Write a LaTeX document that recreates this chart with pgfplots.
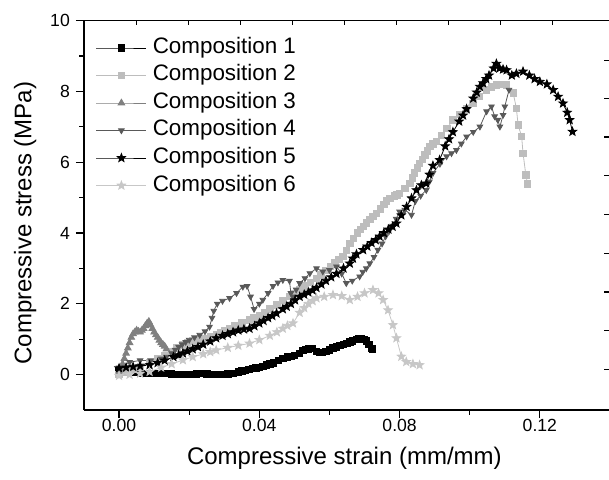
\documentclass[border=0pt]{standalone}
\usepackage{fontspec}
\setmainfont{Liberation Sans}
\usepackage{pgfplots}
\pgfplotsset{compat=1.18}
\definecolor{c2}{gray}{0.74}
\definecolor{c3}{gray}{0.5}
\definecolor{c4}{gray}{0.35}
\definecolor{c6}{gray}{0.78}
\pgfdeclareplotmark{fstar}{%
\pgfpathmoveto{\pgfpointpolar{90}{\pgfplotmarksize}}%
\pgfpathlineto{\pgfpointpolar{126}{0.42\pgfplotmarksize}}%
\pgfpathlineto{\pgfpointpolar{162}{\pgfplotmarksize}}%
\pgfpathlineto{\pgfpointpolar{198}{0.42\pgfplotmarksize}}%
\pgfpathlineto{\pgfpointpolar{234}{\pgfplotmarksize}}%
\pgfpathlineto{\pgfpointpolar{270}{0.42\pgfplotmarksize}}%
\pgfpathlineto{\pgfpointpolar{306}{\pgfplotmarksize}}%
\pgfpathlineto{\pgfpointpolar{342}{0.42\pgfplotmarksize}}%
\pgfpathlineto{\pgfpointpolar{18}{\pgfplotmarksize}}%
\pgfpathlineto{\pgfpointpolar{54}{0.42\pgfplotmarksize}}%
\pgfpathclose
\pgfusepathqfillstroke}
\begin{document}
\begin{tikzpicture}
\begin{axis}[
 width=526pt, height=389.5pt, scale only axis,
 xmin=-0.01, xmax=0.14, ymin=-1, ymax=10,
 axis x line=bottom, axis y line=left, axis line style={-, line width=1.2pt},
 xtick={0,0.04,0.08,0.12}, xticklabels={0.00,0.04,0.08,0.12},
 minor xtick={0.02,0.06,0.10},
 ytick={0,2,4,6,8,10}, minor ytick={1,3,5,7,9},
 tick align=outside, major tick length=8pt, minor tick length=4.5pt,
 every tick/.style={black, line width=1.2pt},
 tick label style={font=\fontsize{17.6}{20}\selectfont},
 /pgf/number format/assume math mode=true,
 xticklabel style={anchor=north, inner sep=0pt, yshift=-0.7pt},
 yticklabel style={anchor=east, inner sep=0pt, xshift=-6pt},
 xlabel={Compressive strain (mm/mm)}, ylabel={Compressive stress (MPa)},
 label style={font=\fontsize{24}{28}\selectfont},
 xlabel style={at={(axis description cs:0.495,0)}, anchor=base, yshift=-54pt},
 ylabel style={at={(axis description cs:-0.112,0.48)}, anchor=center},
 legend style={draw=none, fill=none, at={(axis description cs:0,1)}, anchor=north west,
   xshift=12pt, yshift=-17pt, inner sep=0pt, outer sep=0pt, row sep=6.5pt, column sep=6pt,
   font=\fontsize{22.4}{24}\selectfont,
   nodes={inner sep=0pt, text height=16pt, text depth=5pt, anchor=west}},
 legend cell align=left,
 legend image code/.code={\draw[mark repeat=2,mark phase=2] plot coordinates {(0pt,0pt)(25pt,0pt)(50pt,0pt)};},
]
\addplot[black, line width=0.8pt, mark=square*, mark size=3.2pt] coordinates {
(0.000,0.10)(0.002,0.08)(0.004,0.06)(0.006,0.05)(0.008,0.04)(0.010,0.03)(0.012,0.04)(0.0135,0.04)
(0.015,0.02)(0.016,0.01)(0.017,0.0)(0.018,0.0)(0.019,0.0)(0.020,0.0)(0.021,0.0)(0.022,0.02)(0.023,0.03)(0.024,0.03)(0.025,0.02)(0.026,0.01)(0.027,0.0)(0.028,0.0)(0.029,0.0)(0.030,0.01)
(0.031,0.02)(0.0325,0.04)(0.034,0.08)(0.035,0.1)(0.036,0.12)(0.037,0.14)(0.038,0.17)(0.039,0.19)(0.040,0.2)(0.041,0.23)(0.042,0.27)(0.043,0.3)(0.044,0.33)
(0.0455,0.4)(0.0467,0.45)(0.048,0.5)(0.049,0.52)(0.050,0.55)(0.0515,0.6)(0.0524,0.69)(0.0532,0.71)(0.054,0.73)(0.055,0.74)
(0.0563,0.65)(0.0572,0.62)(0.058,0.62)(0.059,0.66)(0.060,0.7)(0.061,0.75)(0.062,0.78)(0.063,0.82)(0.064,0.85)(0.065,0.88)(0.0658,0.92)(0.0665,0.95)(0.0677,1.0)
(0.0684,1.02)(0.069,1.02)(0.0698,1.0)(0.0705,0.95)(0.0712,0.85)(0.072,0.74)(0.0722,0.72)};
\addlegendentry{Composition 1}
\addplot[c2, line width=0.8pt, mark=square*, mark size=3.2pt] coordinates {
(0,0.0)(0.002,0.08)(0.004,0.15)(0.006,0.22)(0.0087,0.35)(0.011,0.45)(0.013,0.55)(0.015,0.65)(0.0165,0.75)
(0.0182,0.84)(0.0195,0.9)(0.021,0.95)(0.0225,1.0)(0.024,1.03)(0.026,1.08)(0.0277,1.12)(0.029,1.2)(0.030,1.25)(0.0315,1.31)(0.033,1.38)(0.035,1.46)(0.0372,1.54)(0.0385,1.6)(0.040,1.68)
(0.0415,1.76)(0.043,1.85)(0.045,1.97)(0.0467,2.1)(0.0485,2.2)(0.050,2.3)(0.0515,2.4)(0.053,2.5)(0.0545,2.6)(0.0563,2.72)(0.0575,2.82)(0.059,2.95)(0.0603,3.05)(0.0615,3.15)(0.0627,3.25)(0.0638,3.33)
(0.0648,3.5)(0.0658,3.71)(0.0668,3.85)(0.068,4.0)(0.0688,4.1)(0.0696,4.18)(0.0705,4.28)(0.0715,4.38)(0.0724,4.47)(0.0734,4.56)(0.0745,4.68)(0.0755,4.8)(0.0763,4.9)(0.0772,4.98)(0.0785,5.05)
(0.0792,5.08)(0.08,5.12)(0.0815,5.25)(0.0829,5.4)(0.0836,5.55)(0.0843,5.7)(0.085,5.84)(0.0857,5.97)(0.0865,6.08)(0.0872,6.2)(0.0879,6.32)(0.0886,6.44)(0.0895,6.52)(0.0905,6.58)
(0.092,6.75)(0.0935,6.95)(0.0952,7.19)(0.097,7.35)(0.099,7.5)(0.1009,7.66)(0.1028,7.85)(0.1048,8.04)
(0.1062,8.12)(0.1076,8.18)(0.109,8.2)(0.1105,8.18)(0.1124,7.95)(0.1133,7.52)(0.1138,7.05)(0.1148,6.72)
(0.1152,6.25)(0.116,5.64)(0.1165,5.38)};
\addlegendentry{Composition 2}
\addplot[c3, line width=0.8pt, mark=triangle*, mark size=3.8pt] coordinates {
(0,0.05)(0.0005,0.15)(0.001,0.3)(0.0015,0.45)(0.002,0.6)(0.0025,0.75)(0.003,0.9)(0.0035,1.05)(0.004,1.15)(0.0045,1.2)(0.005,1.25)(0.0055,1.22)(0.006,1.2)(0.0065,1.25)(0.007,1.3)(0.0075,1.38)
(0.008,1.45)(0.0085,1.5)(0.009,1.4)(0.0095,1.3)(0.010,1.2)(0.0105,1.12)(0.011,1.05)(0.0115,0.97)(0.012,0.9)(0.0125,0.85)(0.013,0.8)(0.0135,0.72)};
\addlegendentry{Composition 3}
\addplot[c4, line width=0.8pt, mark=triangle*, mark size=3.2pt, mark options={rotate=180}] coordinates {
(0,0.2)(0.003,0.35)(0.006,0.4)(0.009,0.4)(0.012,0.45)(0.0135,0.5)(0.015,0.6)(0.016,0.7)(0.017,0.78)(0.018,0.85)(0.019,0.92)
(0.020,0.98)(0.0215,1.05)(0.023,1.12)(0.0245,1.22)(0.0258,1.35)(0.0265,1.6)(0.027,1.8)(0.028,2.0)(0.0295,2.08)(0.0315,2.16)(0.0335,2.3)(0.0353,2.48)(0.0365,2.5)
(0.0375,2.2)(0.0385,1.85)(0.040,2.0)(0.041,2.11)(0.0425,2.3)(0.0439,2.5)(0.0453,2.6)(0.0467,2.67)(0.0486,2.65)(0.049,2.3)(0.0496,2.2)
(0.0505,2.4)(0.0515,2.58)(0.053,2.72)(0.0544,2.86)(0.0563,3.0)(0.0581,2.91)(0.06,2.95)(0.062,3.05)(0.0635,2.85)(0.0648,2.58)
(0.0665,2.65)(0.0686,2.77)(0.0695,2.9)(0.0705,3.0)(0.0715,3.14)(0.0727,3.32)(0.0738,3.52)(0.075,3.7)(0.076,3.9)(0.077,4.05)(0.078,4.2)(0.079,4.4)(0.080,4.6)
(0.0815,4.65)(0.0834,4.51)(0.0845,4.9)(0.086,5.05)(0.0876,5.21)(0.0885,5.45)(0.0895,5.69)(0.0915,5.95)(0.0934,6.16)(0.0948,6.25)(0.0962,6.34)(0.0976,6.52)(0.0991,6.72)
(0.101,6.85)(0.1029,7.0)(0.1048,7.43)(0.1062,7.57)(0.1071,7.29)(0.108,7.19)(0.1086,7.0)(0.1095,7.33)(0.11,7.57)
(0.1112,8.04)};
\addlegendentry{Composition 4}
\addplot[black, line width=0.8pt, mark=fstar, mark size=4.4pt] coordinates {
(0,0.18)(0.002,0.2)(0.004,0.22)(0.006,0.24)(0.0087,0.27)(0.011,0.33)(0.013,0.4)(0.0155,0.5)(0.017,0.55)
(0.0182,0.6)(0.0195,0.66)(0.021,0.72)(0.0225,0.78)(0.024,0.85)(0.026,0.94)(0.0277,1.03)(0.0295,1.1)(0.031,1.15)(0.0325,1.2)(0.034,1.25)(0.0356,1.28)(0.0372,1.3)(0.0386,1.37)(0.040,1.45)
(0.0412,1.52)(0.0425,1.6)(0.0437,1.66)(0.0449,1.73)(0.0467,1.85)(0.0478,1.92)(0.049,2.0)(0.0502,2.1)(0.0515,2.2)(0.0528,2.26)(0.054,2.32)(0.0552,2.38)(0.0563,2.45)(0.0577,2.55)(0.059,2.65)
(0.0605,2.75)(0.062,2.85)(0.064,3.0)(0.0658,3.14)(0.0667,3.28)(0.0677,3.4)(0.0696,3.52)(0.0708,3.62)(0.072,3.72)(0.0732,3.8)(0.0743,3.9)(0.0755,4.0)(0.0768,4.1)(0.078,4.18)(0.0791,4.27)
(0.0805,4.5)(0.082,4.74)(0.0834,4.98)(0.0848,5.21)(0.0862,5.35)(0.0876,5.4)(0.0885,5.65)(0.0895,5.9)(0.0914,6.06)(0.093,6.45)(0.0941,6.65)(0.0952,6.85)
(0.097,7.15)(0.0981,7.32)(0.0991,7.5)(0.101,7.8)(0.102,7.97)(0.1029,8.13)(0.1038,8.23)(0.1047,8.35)(0.1055,8.45)(0.1068,8.65)(0.1076,8.78)
(0.1085,8.65)(0.1095,8.62)(0.1105,8.6)(0.112,8.45)(0.1133,8.5)(0.1152,8.56)(0.117,8.45)(0.1185,8.35)
(0.12,8.27)(0.122,8.2)(0.1238,8.04)(0.1252,7.85)(0.1266,7.66)(0.1278,7.4)(0.1285,7.19)(0.1293,6.86)};
\addlegendentry{Composition 5}
\addplot[c6, line width=0.8pt, mark=fstar, mark size=4.4pt] coordinates {
(0,-0.03)(0.003,0.0)(0.006,0.03)(0.0087,0.08)(0.012,0.2)(0.015,0.3)(0.0182,0.41)(0.021,0.5)
(0.024,0.58)(0.026,0.64)(0.0277,0.69)(0.031,0.76)(0.034,0.82)(0.0372,0.88)(0.040,0.98)(0.043,1.1)(0.045,1.2)(0.0467,1.3)
(0.048,1.38)(0.0496,1.45)(0.0515,1.75)(0.0528,1.88)(0.054,2.0)(0.0552,2.08)(0.0563,2.16)(0.0585,2.2)(0.061,2.25)(0.0635,2.22)(0.0658,2.11)
(0.068,2.2)(0.070,2.3)(0.0724,2.39)(0.074,2.3)(0.0753,2.11)(0.0767,1.82)(0.0781,1.4)(0.0791,1.03)
(0.0805,0.51)(0.0819,0.36)(0.0838,0.3)(0.0857,0.27)};
\addlegendentry{Composition 6}
\end{axis}
\begin{axis}[
 width=526pt, height=389.5pt, scale only axis,
 xmin=-0.01, xmax=0.14, ymin=-1, ymax=10,
 axis x line=top, axis y line=none, axis line style={-, line width=1.2pt},
 xtick={0.005,0.0198,0.0347,0.0495,0.0643,0.0792,0.094,0.1088,0.1236}, xticklabels={},
 ytick=\empty, tick align=inside, major tick length=4.5pt,
 every tick/.style={black, line width=1.2pt},
]
\end{axis}
\begin{axis}[
 width=526pt, height=389.5pt, scale only axis,
 xmin=-0.01, xmax=0.14, ymin=-1, ymax=10,
 axis x line=none, axis y line=right, axis line style={draw=none},
 ytick={0.15,1.24,2.33,3.42,4.52,5.62,6.71,7.8,8.88}, yticklabels={},
 xtick=\empty, tick align=inside, major tick length=6pt,
 every tick/.style={black, line width=1.2pt},
]
\end{axis}
\pgfresetboundingbox
\path[use as bounding box] (-84pt,-69pt) rectangle (525pt,410pt);
\end{tikzpicture}
\end{document}
